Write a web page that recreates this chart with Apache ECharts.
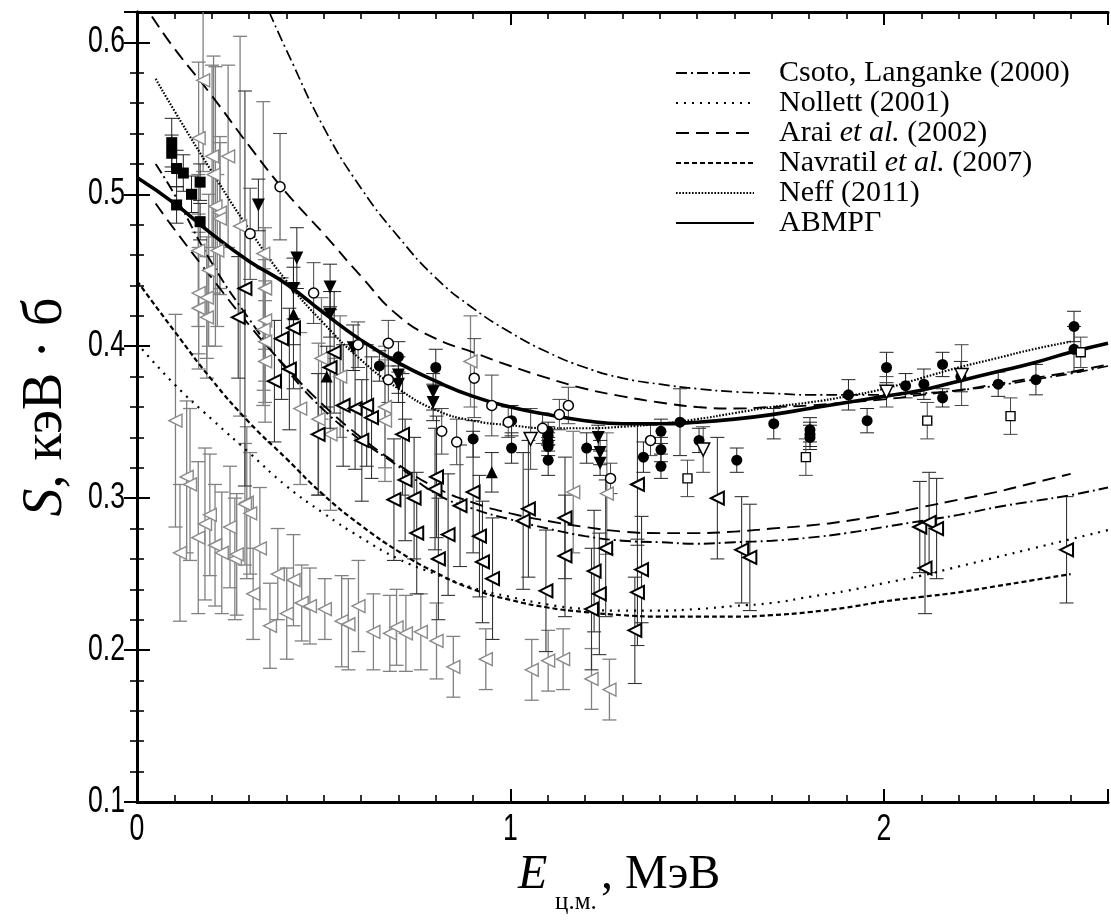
<!DOCTYPE html>
<html>
<head>
<meta charset="utf-8">
<script src="https://cdn.jsdelivr.net/npm/echarts@6/dist/echarts.min.js"></script>
<style>
html,body{margin:0;padding:0;background:#fff}
#chart{width:1111px;height:920px}
</style>
</head>
<body>
<div id="chart"></div>
<script>
// ---- theoretical curves: [E (MeV), S (keV b)] ----
const avmrg = [[0,0.511],[0.1,0.494],[0.2,0.474],[0.3,0.456],[0.4,0.441],[0.5,0.422],[0.6,0.404],[0.7,0.389],[0.8,0.377],[0.9,0.367],[1.0,0.360],[1.1,0.355],[1.2,0.351],[1.3,0.349],[1.4,0.349],[1.5,0.350],[1.6,0.352],[1.7,0.355],[1.8,0.359],[1.9,0.363],[2.0,0.367],[2.1,0.371],[2.2,0.377],[2.3,0.383],[2.4,0.389],[2.5,0.396],[2.6,0.402]];
const neff = [[0.05,0.576],[0.1,0.555],[0.2,0.515],[0.3,0.477],[0.4,0.443],[0.5,0.415],[0.6,0.391],[0.7,0.372],[0.8,0.358],[0.9,0.351],[1.0,0.348],[1.1,0.346],[1.2,0.346],[1.3,0.347],[1.4,0.349],[1.5,0.352],[1.6,0.356],[1.7,0.360],[1.8,0.363],[1.9,0.367],[2.0,0.372],[2.1,0.379],[2.2,0.386],[2.3,0.392],[2.4,0.398],[2.5,0.403]];
const csotoTotal = [[0.354,0.620],[0.4,0.595],[0.5,0.544],[0.6,0.504],[0.7,0.472],[0.8,0.445],[0.9,0.425],[1.0,0.409],[1.1,0.396],[1.2,0.386],[1.3,0.379],[1.4,0.375],[1.5,0.372],[1.6,0.370],[1.7,0.369],[1.8,0.368],[1.9,0.368],[2.0,0.368],[2.1,0.369],[2.2,0.371],[2.3,0.374],[2.4,0.378],[2.5,0.382],[2.6,0.387]];
const araiTotal = [[0.04,0.617],[0.1,0.596],[0.2,0.565],[0.3,0.532],[0.4,0.501],[0.5,0.474],[0.6,0.446],[0.7,0.420],[0.8,0.405],[0.9,0.396],[1.0,0.387],[1.1,0.379],[1.2,0.372],[1.3,0.367],[1.4,0.363],[1.5,0.360],[1.6,0.359],[1.7,0.360],[1.8,0.361],[1.9,0.363],[2.0,0.365],[2.1,0.368],[2.2,0.371],[2.3,0.375],[2.4,0.379],[2.5,0.383],[2.6,0.388]];
const araiGs = [[0.05,0.494],[0.1,0.477],[0.2,0.445],[0.3,0.414],[0.4,0.386],[0.5,0.361],[0.6,0.340],[0.7,0.322],[0.8,0.307],[0.9,0.297],[1.0,0.290],[1.1,0.285],[1.2,0.281],[1.3,0.278],[1.4,0.277],[1.5,0.277],[1.6,0.278],[1.7,0.280],[1.8,0.282],[1.9,0.285],[2.0,0.289],[2.1,0.294],[2.2,0.299],[2.3,0.304],[2.4,0.310],[2.5,0.316]];
const csotoGs = [[0.05,0.520],[0.1,0.500],[0.2,0.455],[0.3,0.418],[0.4,0.385],[0.5,0.358],[0.6,0.338],[0.7,0.321],[0.8,0.303],[0.9,0.293],[1.0,0.286],[1.1,0.280],[1.2,0.275],[1.3,0.272],[1.4,0.271],[1.5,0.270],[1.6,0.271],[1.7,0.272],[1.8,0.274],[1.9,0.277],[2.0,0.281],[2.1,0.285],[2.2,0.289],[2.3,0.294],[2.4,0.298],[2.5,0.302],[2.6,0.307]];
const navratil = [[0,0.443],[0.1,0.410],[0.2,0.378],[0.3,0.350],[0.4,0.326],[0.5,0.302],[0.6,0.282],[0.7,0.265],[0.8,0.251],[0.9,0.240],[1.0,0.233],[1.1,0.228],[1.2,0.225],[1.3,0.223],[1.4,0.222],[1.5,0.222],[1.6,0.222],[1.7,0.223],[1.8,0.225],[1.9,0.228],[2.0,0.232],[2.1,0.235],[2.2,0.238],[2.3,0.242],[2.4,0.246],[2.5,0.250]];
const nollett = [[0,0.402],[0.1,0.375],[0.2,0.352],[0.3,0.330],[0.4,0.308],[0.5,0.290],[0.6,0.274],[0.7,0.260],[0.8,0.250],[0.9,0.241],[1.0,0.235],[1.1,0.230],[1.2,0.227],[1.3,0.226],[1.4,0.226],[1.5,0.227],[1.6,0.229],[1.7,0.231],[1.8,0.235],[1.9,0.239],[2.0,0.244],[2.1,0.249],[2.2,0.255],[2.3,0.261],[2.4,0.267],[2.5,0.273],[2.6,0.279]];

// ---- measurements: [E, S, error] ----
const squaresFilled = [[0.093,0.534,0.016],[0.093,0.527,0.012],[0.106,0.517,0.012],[0.124,0.514,0.012],[0.169,0.508,0.012],[0.146,0.500,0.012],[0.106,0.493,0.012],[0.169,0.482,0.012]];
const trianglesDownFilled = [[0.325,0.493,0.017],[0.428,0.458,0.02],[0.419,0.438,0.02],[0.517,0.439,0.015],[0.517,0.421,0.015],[0.579,0.399,0.015],[0.700,0.381,0.012],[0.700,0.375,0.012],[0.793,0.370,0.012],[0.793,0.363,0.012],[1.235,0.340,0.008],[1.240,0.330,0.008],[1.240,0.323,0.008]];
const trianglesUpFilled = [[0.419,0.421,0.02],[0.508,0.380,0.02],[0.950,0.317,0.013]];
const circlesFilled = [[0.649,0.387,0.01],[0.700,0.393,0.01],[0.800,0.386,0.012],[0.900,0.339,0.012],[1.003,0.351,0.01],[1.003,0.333,0.01],[1.101,0.344,0.006],[1.101,0.341,0.006],[1.101,0.337,0.006],[1.101,0.334,0.006],[1.101,0.325,0.01],[1.204,0.333,0.01],[1.356,0.327,0.01],[1.403,0.344,0.008],[1.403,0.332,0.008],[1.403,0.321,0.008],[1.454,0.350,0.022],[1.505,0.338,0.008],[1.606,0.325,0.008],[1.705,0.349,0.01],[1.802,0.345,0.008],[1.802,0.342,0.008],[1.802,0.340,0.008],[1.905,0.368,0.01],[1.955,0.351,0.008],[2.007,0.386,0.01],[2.058,0.374,0.008],[2.107,0.375,0.01],[2.157,0.388,0.008],[2.157,0.366,0.006],[2.206,0.380,0.01],[2.306,0.375,0.008],[2.407,0.378,0.01],[2.509,0.413,0.01],[2.509,0.398,0.015]];
const circlesOpen = [[0.383,0.505,0.035],[0.303,0.474,0.03],[0.473,0.435,0.02],[0.592,0.401,0.015],[0.673,0.402,0.015],[0.673,0.378,0.015],[0.816,0.344,0.015],[0.856,0.337,0.015],[0.903,0.379,0.026],[0.950,0.361,0.02],[0.994,0.350,0.01],[1.086,0.346,0.01],[1.131,0.355,0.01],[1.155,0.361,0.012],[1.268,0.313,0.01],[1.375,0.338,0.01]];
const trianglesDownOpen = [[1.054,0.339,0.02],[1.516,0.332,0.015],[2.007,0.370,0.01],[2.208,0.381,0.02]];
const squaresOpen = [[1.474,0.313,0.012],[1.791,0.327,0.012],[2.116,0.351,0.012],[2.339,0.354,0.012],[2.527,0.396,0.01]];
const trianglesLeftBold = [[0.271,0.419,0.04],[0.289,0.438,0.13],[0.368,0.377,0.04],[0.387,0.405,0.04],[0.408,0.385,0.04],[0.419,0.412,0.04],[0.485,0.342,0.04],[0.517,0.386,0.04],[0.528,0.396,0.04],[0.552,0.361,0.04],[0.584,0.359,0.04],[0.602,0.338,0.04],[0.615,0.361,0.04],[0.628,0.353,0.04],[0.688,0.299,0.04],[0.711,0.342,0.04],[0.718,0.312,0.04],[0.742,0.300,0.04],[0.749,0.277,0.04],[0.798,0.306,0.04],[0.802,0.314,0.04],[0.807,0.260,0.04],[0.833,0.276,0.04],[0.865,0.295,0.04],[0.900,0.304,0.04],[0.917,0.275,0.04],[0.925,0.258,0.04],[0.952,0.247,0.04],[1.034,0.285,0.045],[1.048,0.293,0.045],[1.095,0.239,0.04],[1.146,0.287,0.04],[1.146,0.262,0.04],[1.217,0.227,0.04],[1.224,0.252,0.04],[1.238,0.237,0.04],[1.255,0.267,0.045],[1.333,0.213,0.035],[1.340,0.309,0.04],[1.340,0.238,0.035],[1.351,0.253,0.035],[1.554,0.300,0.04],[1.619,0.266,0.035],[1.641,0.261,0.035],[2.096,0.281,0.03],[2.110,0.254,0.03],[2.121,0.284,0.033],[2.141,0.280,0.033],[2.489,0.266,0.035]];
const trianglesLeftGrey = [[0.177,0.575,0.06],[0.165,0.537,0.05],[0.201,0.525,0.06],[0.244,0.525,0.06],[0.205,0.513,0.078],[0.210,0.492,0.092],[0.222,0.488,0.05],[0.222,0.484,0.05],[0.276,0.479,0.125],[0.164,0.463,0.05],[0.215,0.463,0.05],[0.338,0.461,0.10],[0.192,0.450,0.05],[0.165,0.435,0.04],[0.187,0.432,0.04],[0.165,0.425,0.04],[0.187,0.419,0.04],[0.343,0.438,0.04],[0.343,0.417,0.04],[0.339,0.411,0.04],[0.343,0.403,0.04],[0.343,0.390,0.04],[0.437,0.359,0.05],[0.486,0.352,0.05],[0.103,0.351,0.07],[0.518,0.342,0.05],[0.494,0.392,0.04],[0.544,0.380,0.04],[0.664,0.360,0.04],[0.664,0.351,0.04],[0.133,0.314,0.05],[0.142,0.309,0.05],[0.294,0.297,0.05],[0.893,0.390,0.03],[1.168,0.304,0.04],[1.258,0.303,0.04],[0.115,0.264,0.045],[0.164,0.274,0.05],[0.182,0.283,0.05],[0.195,0.289,0.04],[0.209,0.269,0.04],[0.227,0.264,0.04],[0.249,0.281,0.04],[0.262,0.260,0.04],[0.267,0.263,0.04],[0.289,0.296,0.04],[0.303,0.290,0.04],[0.311,0.237,0.03],[0.329,0.267,0.04],[0.356,0.216,0.028],[0.377,0.250,0.03],[0.401,0.224,0.03],[0.419,0.246,0.03],[0.441,0.231,0.025],[0.463,0.229,0.025],[0.503,0.227,0.02],[0.548,0.219,0.03],[0.566,0.217,0.03],[0.593,0.229,0.03],[0.633,0.212,0.025],[0.677,0.211,0.025],[0.695,0.215,0.025],[0.720,0.211,0.025],[0.760,0.212,0.025],[0.802,0.206,0.025],[0.847,0.189,0.02],[0.934,0.194,0.02],[1.057,0.187,0.02],[1.101,0.193,0.02],[1.141,0.194,0.02],[1.217,0.181,0.02],[1.265,0.174,0.02]];

// ---- axis tick labels ----
const xTickValues = [0, 1, 2];
const xTickLabels = ['0', '1', '2'];
const yTickValues = [0.1, 0.2, 0.3, 0.4, 0.5, 0.6];
const yTickLabels = ['0.1', '0.2', '0.3', '0.4', '0.5', '0.6'];

const SERIF = '"Liberation Serif", "DejaVu Serif", serif';
const SANS = '"Liberation Sans", Arial, sans-serif';

const chart = echarts.init(document.getElementById('chart'), null, {renderer: 'canvas'});

function errorBars(name, data, color, width) {
  return {
    type: 'custom', name: name, data: data, clip: true, z: 2, silent: true,
    renderItem: function (params, api) {
      const x = api.value(0), y = api.value(1), e = api.value(2);
      const top = api.coord([x, y + e]);
      const bot = api.coord([x, y - e]);
      const hw = 7;
      const style = {stroke: color, lineWidth: width, fill: null};
      return {type: 'group', children: [
        {type: 'line', shape: {x1: top[0], y1: top[1], x2: bot[0], y2: bot[1]}, style: style},
        {type: 'line', shape: {x1: top[0] - hw, y1: top[1], x2: top[0] + hw, y2: top[1]}, style: style},
        {type: 'line', shape: {x1: bot[0] - hw, y1: bot[1], x2: bot[0] + hw, y2: bot[1]}, style: style}
      ]};
    }
  };
}

function markers(data, symbol, size, rotate, fill, stroke, bw) {
  return {
    type: 'scatter', data: data.map(d => [d[0], d[1]]), symbol: symbol, symbolSize: size,
    symbolRotate: rotate, clip: true, z: 4, silent: true,
    itemStyle: {color: fill, borderColor: stroke, borderWidth: bw, opacity: 1}
  };
}

function curve(name, data, type, width) {
  return {
    type: 'line', name: name, data: data, smooth: true, showSymbol: false, symbol: 'none',
    clip: true, z: 3, silent: true,
    itemStyle: {color: '#000', opacity: 0},
    lineStyle: {color: '#000', width: width, type: type, cap: 'butt', opacity: 1}
  };
}

const NAMES = {
  cl: 'Csoto, Langanke (2000)',
  no: 'Nollett (2001)',
  ar: 'Arai et al. (2002)',
  na: 'Navratil et al. (2007)',
  ne: 'Neff (2011)',
  av: 'АВМРГ'
};

const DASH = {
  cl: [11, 4, 2, 4],
  no: [2, 6],
  ar: [13, 7],
  na: [5, 3],
  ne: [1.6, 1.6]
};

const axisCommon = {min: 0, max: 2.6, type: 'value', splitLine: {show: false}, axisLabel: {show: false}};
const yCommon = {min: 0.1, max: 0.62, type: 'value', splitLine: {show: false}, axisLabel: {show: false}};
const majorTick = {show: true, inside: true, length: 13, lineStyle: {color: '#000', width: 2}};
const minorTick = {show: true, inside: true, length: 7, lineStyle: {color: '#000', width: 1.6}};
const frameLine = {show: true, lineStyle: {color: '#000', width: 3}};

const option = {
  backgroundColor: '#fff',
  animation: false,
  grid: {left: 137, right: 3, top: 12, bottom: 118, containLabel: false},
  xAxis: [
    Object.assign({}, axisCommon, {position: 'bottom', interval: 1, axisLine: frameLine, axisTick: majorTick}),
    Object.assign({}, axisCommon, {position: 'bottom', interval: 0.1, axisLine: {show: false}, axisTick: minorTick}),
    Object.assign({}, axisCommon, {position: 'top', interval: 1, axisLine: frameLine, axisTick: majorTick}),
    Object.assign({}, axisCommon, {position: 'top', interval: 0.1, axisLine: {show: false}, axisTick: minorTick})
  ],
  yAxis: [
    Object.assign({}, yCommon, {
      position: 'left', interval: 0.1, axisLine: frameLine, axisTick: majorTick,
      name: '{i|S}, кэВ · б', nameLocation: 'middle', nameRotate: 90, nameGap: 63,
      nameTextStyle: {color: '#000', fontSize: 56, fontFamily: SERIF,
        rich: {i: {fontStyle: 'italic', fontSize: 56, fontFamily: SERIF, color: '#000'}}}
    }),
    Object.assign({}, yCommon, {position: 'left', interval: 0.02, axisLine: {show: false}, axisTick: minorTick}),
    Object.assign({}, yCommon, {position: 'right', interval: 0.1, axisLine: frameLine, axisTick: majorTick}),
    Object.assign({}, yCommon, {position: 'right', interval: 0.02, axisLine: {show: false}, axisTick: minorTick})
  ],
  legend: {
    orient: 'vertical', left: 670, top: 53, itemWidth: 78, itemHeight: 14, itemGap: 0,
    data: [NAMES.cl, NAMES.no, NAMES.ar, NAMES.na, NAMES.ne, NAMES.av],
    selectedMode: false,
    itemStyle: {opacity: 0},
    textStyle: {color: '#000', fontSize: 30, lineHeight: 27.5, fontFamily: SERIF, padding: [0, 0, 0, 20],
      rich: {i: {fontStyle: 'italic', fontSize: 30, lineHeight: 27.5, fontFamily: SERIF, color: '#000'}}},
    formatter: function (n) { return n.replace('et al.', '{i|et al.}'); }
  },
  series: [
    errorBars('eg', trianglesLeftGrey, '#808080', 1.3),
    errorBars('eb', trianglesLeftBold, '#333', 1.1),
    errorBars('e1', squaresFilled, '#222', 1),
    errorBars('e2', trianglesDownFilled, '#222', 1),
    errorBars('e3', trianglesUpFilled, '#222', 1),
    errorBars('e4', circlesFilled, '#222', 1),
    errorBars('e5', circlesOpen, '#444', 1),
    errorBars('e6', trianglesDownOpen, '#444', 1),
    errorBars('e7', squaresOpen, '#444', 1),
    markers(trianglesLeftGrey, 'triangle', 13, 90, '#fff', '#8a8a8a', 1.4),
    markers(trianglesLeftBold, 'triangle', 13, 90, '#fff', '#000', 2),
    markers(squaresFilled, 'rect', 11, 0, '#000', '#000', 0),
    markers(trianglesDownFilled, 'triangle', 13, 180, '#000', '#000', 0),
    markers(trianglesUpFilled, 'triangle', 12, 0, '#000', '#000', 0),
    markers(circlesFilled, 'circle', 11, 0, '#000', '#000', 0),
    markers(circlesOpen, 'circle', 10, 0, '#fff', '#000', 1.5),
    markers(trianglesDownOpen, 'triangle', 13, 180, '#fff', '#000', 1.5),
    markers(squaresOpen, 'rect', 9, 0, '#fff', '#000', 1.4),
    curve(NAMES.cl, csotoTotal, DASH.cl, 1.7),
    curve(NAMES.cl, csotoGs, DASH.cl, 1.9),
    curve(NAMES.no, nollett, DASH.no, 2.2),
    curve(NAMES.ar, araiTotal, DASH.ar, 1.9),
    curve(NAMES.ar, araiGs, DASH.ar, 1.9),
    curve(NAMES.na, navratil, DASH.na, 2.2),
    curve(NAMES.ne, neff, DASH.ne, 2.2),
    curve(NAMES.av, avmrg, 'solid', 3.6)
  ]
};

chart.setOption(option);

// Tick labels in a condensed sans face, placed through the axis scales.
const labelGraphics = [];
xTickValues.forEach(function (v, i) {
  const p = chart.convertToPixel({xAxisIndex: 0, yAxisIndex: 0}, [v, 0.1]);
  labelGraphics.push({type: 'text', x: p[0], y: p[1] + 28, scaleX: 0.74, silent: true,
    style: {text: xTickLabels[i], x: 0, y: 0, align: 'center', verticalAlign: 'middle',
      fontSize: 36, fontFamily: SANS, fill: '#000'}});
});
yTickValues.forEach(function (v, i) {
  const p = chart.convertToPixel({xAxisIndex: 0, yAxisIndex: 0}, [0, v]);
  labelGraphics.push({type: 'text', x: p[0] - 12, y: p[1], scaleX: 0.74, silent: true,
    style: {text: yTickLabels[i], x: 0, y: 0, align: 'right', verticalAlign: 'middle',
      fontSize: 36, fontFamily: SANS, fill: '#000'}});
});
// Axis title with subscript
labelGraphics.push(
  {type: 'text', left: 518, top: 851, silent: true, style: {text: 'E', fontSize: 48, fontStyle: 'italic', fontFamily: SERIF, fill: '#000'}},
  {type: 'text', left: 555, top: 890, silent: true, style: {text: 'ц.м.', fontSize: 25, fontFamily: SERIF, fill: '#000'}},
  {type: 'text', left: 601, top: 851, silent: true, style: {text: ', МэВ', fontSize: 48, fontFamily: SERIF, fill: '#000'}}
);
chart.setOption({graphic: labelGraphics});
</script>
</body>
</html>
